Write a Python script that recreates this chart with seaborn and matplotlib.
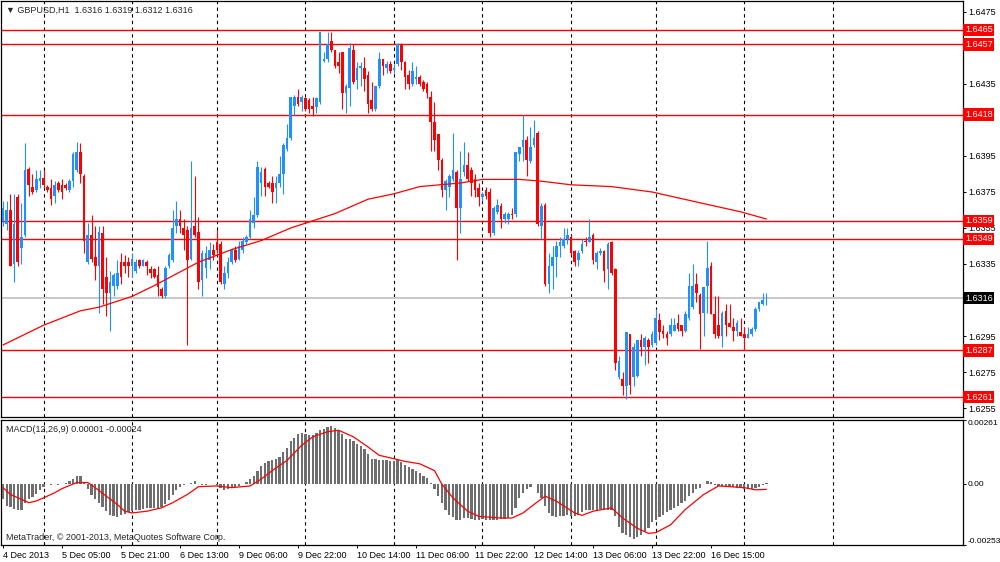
import numpy as np
import pandas as pd
import seaborn as sns
import matplotlib.pyplot as plt
from matplotlib.transforms import blended_transform_factory

# ─── DATA (GBPUSD H1) ─────────────────────────────────────────
opens = [
    1.6359, 1.6357, 1.6365, 1.6335, 1.6372, 1.6344, 1.6351, 1.6388, 1.6378, 1.6376,
    1.6381, 1.6383, 1.6378, 1.6377, 1.6373, 1.6380, 1.6379, 1.6379, 1.6376, 1.6381,
    1.6387, 1.6397, 1.6384, 1.6336, 1.6351, 1.6339, 1.6334, 1.6352, 1.6328, 1.6319,
    1.6323, 1.6323, 1.6336, 1.6336, 1.6336, 1.6334, 1.6331, 1.6337, 1.6334, 1.6336,
    1.6332, 1.6332, 1.6329, 1.6321, 1.6317, 1.6334, 1.6337, 1.6356, 1.6360, 1.6355,
    1.6354, 1.6338, 1.6356, 1.6353, 1.6326, 1.6333, 1.6337, 1.6343, 1.6347, 1.6346,
    1.6324, 1.6330, 1.6336, 1.6343, 1.6338, 1.6343, 1.6347, 1.6350, 1.6358, 1.6362,
    1.6380, 1.6388, 1.6380, 1.6380, 1.6377, 1.6380, 1.6385, 1.6399, 1.6405, 1.6423,
    1.6428, 1.6425, 1.6427, 1.6426, 1.6423, 1.6422, 1.6425, 1.6448, 1.6449, 1.6459,
    1.6454, 1.6447, 1.6453, 1.6430, 1.6433, 1.6454, 1.6437, 1.6444, 1.6444, 1.6440,
    1.6426, 1.6421, 1.6434, 1.6449, 1.6444, 1.6446, 1.6443, 1.6446, 1.6457, 1.6447,
    1.6440, 1.6435, 1.6438, 1.6439, 1.6436, 1.6435, 1.6428, 1.6414, 1.6407, 1.6393,
    1.6376, 1.6378, 1.6382, 1.6386, 1.6366, 1.6386, 1.6390, 1.6387, 1.6382, 1.6377,
    1.6372, 1.6376, 1.6375, 1.6352, 1.6364, 1.6367, 1.6360, 1.6360, 1.6363, 1.6363,
    1.6396, 1.6400, 1.6404, 1.6392, 1.6401, 1.6408, 1.6356, 1.6368, 1.6324, 1.6334,
    1.6339, 1.6345, 1.6345, 1.6349, 1.6350, 1.6342, 1.6337, 1.6342, 1.6348, 1.6347,
    1.6351, 1.6336, 1.6341, 1.6342, 1.6332, 1.6347, 1.6332, 1.6272, 1.6271, 1.6267,
    1.6296, 1.6272, 1.6273, 1.6293, 1.6289, 1.6293, 1.6290, 1.6291, 1.6304, 1.6298,
    1.6296, 1.6296, 1.6298, 1.6302, 1.6301, 1.6298, 1.6305, 1.6311, 1.6324, 1.6318,
    1.6308, 1.6323, 1.6334, 1.6307, 1.6301, 1.6295, 1.6309, 1.6302, 1.6300, 1.6298,
    1.6297, 1.6296, 1.6294, 1.6296, 1.6299, 1.6310, 1.6313, 1.6316,
]
highs = [
    1.6370, 1.6370, 1.6374, 1.6374, 1.6374, 1.6369, 1.6402, 1.6389, 1.6385, 1.6387,
    1.6387, 1.6387, 1.6379, 1.6382, 1.6381, 1.6381, 1.6382, 1.6380, 1.6382, 1.6397,
    1.6403, 1.6402, 1.6385, 1.6358, 1.6362, 1.6356, 1.6356, 1.6356, 1.6339, 1.6331,
    1.6330, 1.6337, 1.6341, 1.6340, 1.6339, 1.6341, 1.6338, 1.6338, 1.6338, 1.6337,
    1.6334, 1.6333, 1.6334, 1.6322, 1.6334, 1.6341, 1.6365, 1.6370, 1.6365, 1.6360,
    1.6356, 1.6392, 1.6384, 1.6361, 1.6343, 1.6345, 1.6347, 1.6346, 1.6354, 1.6348,
    1.6334, 1.6339, 1.6344, 1.6345, 1.6348, 1.6350, 1.6351, 1.6365, 1.6372, 1.6392,
    1.6389, 1.6389, 1.6381, 1.6384, 1.6384, 1.6395, 1.6402, 1.6413, 1.6428, 1.6429,
    1.6432, 1.6429, 1.6428, 1.6427, 1.6428, 1.6428, 1.6464, 1.6453, 1.6464, 1.6464,
    1.6454, 1.6453, 1.6453, 1.6435, 1.6458, 1.6457, 1.6447, 1.6447, 1.6450, 1.6442,
    1.6436, 1.6434, 1.6453, 1.6449, 1.6448, 1.6448, 1.6446, 1.6458, 1.6458, 1.6448,
    1.6443, 1.6447, 1.6445, 1.6440, 1.6437, 1.6436, 1.6431, 1.6425, 1.6407, 1.6394,
    1.6382, 1.6385, 1.6408, 1.6387, 1.6398, 1.6403, 1.6397, 1.6389, 1.6385, 1.6380,
    1.6375, 1.6378, 1.6377, 1.6367, 1.6371, 1.6369, 1.6364, 1.6364, 1.6366, 1.6397,
    1.6400, 1.6418, 1.6406, 1.6411, 1.6415, 1.6409, 1.6369, 1.6369, 1.6341, 1.6345,
    1.6348, 1.6350, 1.6355, 1.6355, 1.6351, 1.6343, 1.6343, 1.6349, 1.6350, 1.6360,
    1.6352, 1.6342, 1.6344, 1.6343, 1.6347, 1.6348, 1.6333, 1.6284, 1.6275, 1.6297,
    1.6296, 1.6291, 1.6293, 1.6296, 1.6295, 1.6294, 1.6298, 1.6310, 1.6308, 1.6301,
    1.6298, 1.6305, 1.6305, 1.6307, 1.6301, 1.6309, 1.6330, 1.6335, 1.6330, 1.6319,
    1.6322, 1.6348, 1.6336, 1.6317, 1.6317, 1.6309, 1.6313, 1.6313, 1.6305, 1.6304,
    1.6305, 1.6300, 1.6300, 1.6300, 1.6311, 1.6314, 1.6319, 1.6319,
]
lows = [
    1.6356, 1.6354, 1.6334, 1.6325, 1.6334, 1.6335, 1.6350, 1.6373, 1.6374, 1.6375,
    1.6377, 1.6377, 1.6375, 1.6368, 1.6369, 1.6375, 1.6371, 1.6376, 1.6375, 1.6378,
    1.6386, 1.6380, 1.6341, 1.6335, 1.6336, 1.6326, 1.6308, 1.6313, 1.6306, 1.6298,
    1.6317, 1.6321, 1.6324, 1.6330, 1.6328, 1.6328, 1.6330, 1.6333, 1.6334, 1.6329,
    1.6327, 1.6327, 1.6317, 1.6316, 1.6316, 1.6333, 1.6336, 1.6352, 1.6352, 1.6343,
    1.6290, 1.6337, 1.6350, 1.6321, 1.6317, 1.6327, 1.6332, 1.6337, 1.6341, 1.6324,
    1.6321, 1.6327, 1.6335, 1.6336, 1.6337, 1.6341, 1.6346, 1.6349, 1.6355, 1.6361,
    1.6373, 1.6373, 1.6377, 1.6369, 1.6369, 1.6378, 1.6374, 1.6398, 1.6404, 1.6418,
    1.6423, 1.6420, 1.6420, 1.6419, 1.6417, 1.6419, 1.6424, 1.6447, 1.6447, 1.6453,
    1.6444, 1.6441, 1.6421, 1.6419, 1.6423, 1.6435, 1.6432, 1.6434, 1.6431, 1.6419,
    1.6420, 1.6420, 1.6433, 1.6440, 1.6441, 1.6441, 1.6441, 1.6445, 1.6443, 1.6432,
    1.6432, 1.6434, 1.6435, 1.6434, 1.6431, 1.6427, 1.6398, 1.6398, 1.6387, 1.6372,
    1.6365, 1.6372, 1.6381, 1.6337, 1.6352, 1.6384, 1.6381, 1.6373, 1.6372, 1.6367,
    1.6370, 1.6371, 1.6350, 1.6351, 1.6363, 1.6355, 1.6358, 1.6357, 1.6360, 1.6361,
    1.6392, 1.6392, 1.6384, 1.6391, 1.6400, 1.6356, 1.6349, 1.6323, 1.6319, 1.6321,
    1.6328, 1.6339, 1.6344, 1.6346, 1.6340, 1.6334, 1.6334, 1.6341, 1.6345, 1.6347,
    1.6335, 1.6332, 1.6340, 1.6325, 1.6321, 1.6329, 1.6276, 1.6271, 1.6262, 1.6260,
    1.6263, 1.6267, 1.6272, 1.6284, 1.6279, 1.6280, 1.6289, 1.6290, 1.6293, 1.6294,
    1.6290, 1.6295, 1.6298, 1.6298, 1.6295, 1.6297, 1.6304, 1.6310, 1.6314, 1.6288,
    1.6295, 1.6308, 1.6307, 1.6294, 1.6294, 1.6289, 1.6295, 1.6300, 1.6292, 1.6295,
    1.6295, 1.6287, 1.6294, 1.6295, 1.6298, 1.6309, 1.6312, 1.6312,
]
closes = [
    1.6366, 1.6365, 1.6334, 1.6357, 1.6336, 1.6350, 1.6387, 1.6379, 1.6375, 1.6382,
    1.6383, 1.6379, 1.6376, 1.6371, 1.6379, 1.6376, 1.6375, 1.6377, 1.6381, 1.6396,
    1.6397, 1.6385, 1.6348, 1.6351, 1.6338, 1.6334, 1.6353, 1.6321, 1.6319, 1.6325,
    1.6329, 1.6330, 1.6328, 1.6334, 1.6334, 1.6338, 1.6336, 1.6334, 1.6337, 1.6334,
    1.6330, 1.6328, 1.6322, 1.6317, 1.6333, 1.6340, 1.6355, 1.6360, 1.6356, 1.6351,
    1.6337, 1.6355, 1.6351, 1.6325, 1.6341, 1.6341, 1.6343, 1.6340, 1.6343, 1.6325,
    1.6330, 1.6336, 1.6343, 1.6337, 1.6345, 1.6348, 1.6350, 1.6360, 1.6362, 1.6389,
    1.6386, 1.6378, 1.6378, 1.6375, 1.6380, 1.6385, 1.6401, 1.6405, 1.6428, 1.6428,
    1.6424, 1.6428, 1.6421, 1.6421, 1.6421, 1.6427, 1.6464, 1.6449, 1.6457, 1.6454,
    1.6445, 1.6445, 1.6430, 1.6434, 1.6455, 1.6436, 1.6444, 1.6445, 1.6438, 1.6424,
    1.6421, 1.6434, 1.6449, 1.6445, 1.6446, 1.6442, 1.6444, 1.6457, 1.6447, 1.6439,
    1.6435, 1.6442, 1.6439, 1.6435, 1.6432, 1.6430, 1.6414, 1.6404, 1.6393, 1.6376,
    1.6381, 1.6384, 1.6387, 1.6366, 1.6382, 1.6390, 1.6382, 1.6380, 1.6376, 1.6372,
    1.6374, 1.6373, 1.6352, 1.6366, 1.6368, 1.6360, 1.6363, 1.6363, 1.6362, 1.6397,
    1.6400, 1.6404, 1.6393, 1.6400, 1.6405, 1.6357, 1.6367, 1.6324, 1.6334, 1.6339,
    1.6345, 1.6347, 1.6349, 1.6351, 1.6341, 1.6336, 1.6341, 1.6346, 1.6347, 1.6350,
    1.6337, 1.6341, 1.6342, 1.6331, 1.6346, 1.6330, 1.6280, 1.6281, 1.6267, 1.6297,
    1.6268, 1.6289, 1.6293, 1.6289, 1.6294, 1.6289, 1.6296, 1.6305, 1.6297, 1.6296,
    1.6294, 1.6301, 1.6301, 1.6299, 1.6298, 1.6307, 1.6323, 1.6323, 1.6319, 1.6307,
    1.6322, 1.6333, 1.6307, 1.6296, 1.6295, 1.6308, 1.6301, 1.6300, 1.6298, 1.6302,
    1.6295, 1.6294, 1.6296, 1.6299, 1.6310, 1.6314, 1.6315, 1.6316,
]

# moving average, sampled along the red curve
ma_bars = [0, 11, 21, 26, 35, 41, 53, 62, 70, 78, 90, 99, 106, 113, 124, 130,
           140, 146, 154, 165, 176, 189, 200, 207]
ma_vals = [1.6290, 1.6301, 1.6309, 1.6311, 1.6317, 1.6323, 1.6336, 1.6343,
           1.6348, 1.6355, 1.6363, 1.6371, 1.6374, 1.6378, 1.6380, 1.6382,
           1.6382, 1.6381, 1.6379, 1.6378, 1.6375, 1.6369, 1.6364, 1.6360]

macd_hist = [
    -0.00065, -0.00091, -0.00098, -0.00104, -0.00107, -0.00107, -0.00079, -0.00065, -0.00056, -0.00042,
    -0.00028, -0.00014, -0.00003, -0.00007, -0.00004, -0.00006, -0.00003, 0.00004, 0.00011, 0.00018,
    0.00029, 0.00029, 0.00007, -0.00021, -0.00049, -0.00065, -0.00079, -0.00096, -0.00114, -0.00128,
    -0.00135, -0.00138, -0.00128, -0.00124, -0.00118, -0.00114, -0.00111, -0.00107, -0.00104, -0.00102,
    -0.00100, -0.00100, -0.00102, -0.00096, -0.00086, -0.00068, -0.00049, -0.00026, -0.00013, -0.00007,
    -0.00004, 0.00004, 0.00010, -0.00003, -0.00007, -0.00006, -0.00004, -0.00003, -0.00007, -0.00017,
    -0.00026, -0.00024, -0.00017, -0.00014, -0.00010, -0.00003, 0.00007, 0.00018, 0.00029, 0.00053,
    0.00074, 0.00085, 0.00091, 0.00095, 0.00102, 0.00109, 0.00130, 0.00146, 0.00174, 0.00188,
    0.00202, 0.00208, 0.00205, 0.00199, 0.00199, 0.00208, 0.00219, 0.00224, 0.00233, 0.00235,
    0.00230, 0.00220, 0.00202, 0.00185, 0.00185, 0.00174, 0.00164, 0.00155, 0.00143, 0.00123,
    0.00102, 0.00099, 0.00098, 0.00096, 0.00095, 0.00093, 0.00091, 0.00095, 0.00088, 0.00077,
    0.00067, 0.00060, 0.00053, 0.00043, 0.00032, 0.00021, 0.00004, -0.00021, -0.00052, -0.00082,
    -0.00107, -0.00128, -0.00138, -0.00149, -0.00149, -0.00142, -0.00143, -0.00146, -0.00149, -0.00149,
    -0.00146, -0.00149, -0.00152, -0.00152, -0.00149, -0.00146, -0.00146, -0.00142, -0.00128, -0.00100,
    -0.00059, -0.00038, -0.00021, -0.00013, -0.00004, -0.00038, -0.00059, -0.00093, -0.00121, -0.00135,
    -0.00138, -0.00135, -0.00132, -0.00128, -0.00132, -0.00135, -0.00128, -0.00118, -0.00110, -0.00107,
    -0.00107, -0.00107, -0.00104, -0.00107, -0.00111, -0.00110, -0.00135, -0.00177, -0.00205, -0.00212,
    -0.00221, -0.00230, -0.00219, -0.00212, -0.00198, -0.00184, -0.00160, -0.00149, -0.00138, -0.00128,
    -0.00118, -0.00110, -0.00100, -0.00091, -0.00082, -0.00072, -0.00052, -0.00038, -0.00024, -0.00017,
    -0.00003, 0.00011, 0.00007, -0.00007, -0.00010, -0.00010, -0.00013, -0.00013, -0.00015, -0.00018,
    -0.00018, -0.00021, -0.00024, -0.00021, -0.00017, -0.00013, -0.00007, 0.00001,
]

signal_bars = [0, 2, 5, 7, 9, 11, 14, 16, 20, 23, 25, 28, 31, 33, 35, 39, 43, 46, 50,
               53, 58, 62, 67, 70, 73, 77, 81, 84, 88, 91, 95, 99, 102, 106, 109, 113,
               117, 119, 122, 126, 129, 135, 138, 141, 144, 147, 150, 155, 157, 160,
               165, 168, 172, 175, 177, 181, 185, 190, 194, 197, 201, 204, 207]
signal_vals = [-0.00017, -0.00045, -0.00065, -0.00079, -0.00072, -0.00059, -0.00038,
               -0.00021, 0.00004, 0.00004, -0.00017, -0.00052, -0.00086, -0.00114,
               -0.00121, -0.00114, -0.00100, -0.00079, -0.00045, -0.00013, -0.00010,
               -0.00017, -0.00010, 0.00018, 0.00053, 0.00095, 0.00157, 0.00192,
               0.00213, 0.00219, 0.00192, 0.00150, 0.00116, 0.00102, 0.00091, 0.00081,
               0.00053, -0.00003, -0.00059, -0.00114, -0.00135, -0.00142, -0.00142,
               -0.00121, -0.00086, -0.00052, -0.00072, -0.00121, -0.00131, -0.00114,
               -0.00100, -0.00142, -0.00184, -0.00205, -0.00202, -0.00170, -0.00107,
               -0.00045, -0.00010, -0.00013, -0.00017, -0.00026, -0.00024]

level_prices = [1.6465, 1.6457, 1.6418, 1.6359, 1.6349, 1.6287, 1.6261]
bid_price = 1.6316
price_ticks = [1.6475, 1.6455, 1.6435, 1.6415, 1.6395, 1.6375, 1.6355,
               1.6335, 1.6315, 1.6295, 1.6275, 1.6255]
# these three sit under a price box on the chart
covered_ticks = [1.6455, 1.6415, 1.6315]
macd_ticks = [0.00261, 0.0, -0.00253]
macd_tick_labels = ["0.00261", "0.00", "-0.00253"]

day_start_bars = [11, 35, 58, 82, 106, 130, 154, 177, 201, 225]
date_bars = [0, 16, 32, 48, 64, 80, 96, 112, 128, 144, 160, 176, 192]
date_labels = ["4 Dec 2013", "5 Dec 05:00", "5 Dec 21:00", "6 Dec 13:00",
               "9 Dec 06:00", "9 Dec 22:00", "10 Dec 14:00", "11 Dec 06:00",
               "11 Dec 22:00", "12 Dec 14:00", "13 Dec 06:00", "13 Dec 22:00",
               "16 Dec 15:00"]


def main():

    # ─── STYLE ─────────────────────────────────────
    sns.set_theme(style="white")
    plt.rcParams["font.family"] = ["Liberation Sans", "DejaVu Sans"]
    FS = 6.5
    BLUE = "#1E90FF"
    RED = "#FF0000"

    fig = plt.figure(figsize=(10, 5.62), dpi=100)
    ax = fig.add_axes([0.001, 0.258, 0.962, 0.7402])
    ax2 = fig.add_axes([0.001, 0.0302, 0.962, 0.2224])

    # ─── CANDLES ───────────────────────────────────
    df = pd.DataFrame({"open": opens, "high": highs, "low": lows, "close": closes})
    df["bar"] = np.arange(len(df))
    colors = np.where(df["close"] >= df["open"], BLUE, RED)
    body_lo = np.minimum(df["open"], df["close"])
    body_h = np.maximum((df["close"] - df["open"]).abs(), 0.00003)

    ax.vlines(df["bar"], df["low"], df["high"], colors=colors, lw=0.8, zorder=3)
    ax.bar(df["bar"], body_h, bottom=body_lo, width=0.72, color=colors,
           linewidth=0, zorder=3)

    sns.lineplot(x=ma_bars, y=ma_vals, ax=ax, color=RED, lw=0.9, zorder=4)

    # levels
    for p in level_prices:
        ax.axhline(p, color=RED, lw=1.0, zorder=2)
    ax.axhline(bid_price, color="#C8C8C8", lw=1.4, zorder=2)

    # ─── MACD ──────────────────────────────────────
    sns.barplot(x=np.arange(len(macd_hist)), y=macd_hist, ax=ax2, native_scale=True,
                color="#6E6E6E", saturation=1, width=0.62, errorbar=None,
                linewidth=0, zorder=3)
    sns.lineplot(x=signal_bars, y=signal_vals, ax=ax2, color=RED, lw=0.9, zorder=4)

    # ─── GRID / AXES ───────────────────────────────
    for a in (ax, ax2):
        for b in day_start_bars:
            a.axvline(b, color="black", lw=0.8, ls=(0, (3, 3)), zorder=1)
        a.set_xlim(-0.54, 260.3)
        a.set_xlabel("")
        a.set_ylabel("")
        for s in a.spines.values():
            s.set_color("black")
            s.set_linewidth(0.9)
        a.yaxis.tick_right()
        a.tick_params(axis="y", length=2, width=0.7, pad=1.5, labelsize=FS,
                      colors="black", right=True)

    ax.set_ylim(1.62500, 1.64811)
    ax.set_xticks([])
    ax.set_yticks(price_ticks)
    ax.set_yticklabels(["" if p in covered_ticks else f"{p:.4f}" for p in price_ticks])

    ax2.set_ylim(-0.00253, 0.00261)
    ax2.set_yticks(macd_ticks)
    ax2.set_yticklabels(macd_tick_labels)
    ax2.tick_params(axis="y", labelsize=6.0, pad=1.0)
    tl = ax2.get_yticklabels()
    tl[0].set_va("top")
    tl[2].set_va("bottom")

    ax2.set_xticks(date_bars)
    ax2.set_xticklabels(date_labels, ha="left")
    ax2.tick_params(axis="x", length=2.5, width=0.7, pad=2, labelsize=FS,
                    colors="black", bottom=True)

    # price label boxes on the right edge
    tr = blended_transform_factory(ax.transAxes, ax.transData)
    for p in level_prices:
        ax.text(1.002, p, f"{p:.4f}", transform=tr, color="white", fontsize=FS,
                va="center", ha="left", clip_on=False, zorder=6,
                bbox=dict(boxstyle="square,pad=0.18", fc=RED, ec="none"))
    ax.text(1.002, bid_price, f"{bid_price:.4f}", transform=tr, color="white",
            fontsize=FS, va="center", ha="left", clip_on=False, zorder=6,
            bbox=dict(boxstyle="square,pad=0.18", fc="black", ec="none"))

    # ─── TEXTS ─────────────────────────────────────
    fig.text(0.006, 1 - 10 / 562, "\u25bc GBPUSD,H1  1.6316 1.6319 1.6312 1.6316",
             fontsize=FS, va="center", ha="left")
    fig.text(0.006, 1 - 429 / 562, "MACD(12,26,9) 0.00001 -0.00024",
             fontsize=FS, va="center", ha="left")
    fig.text(0.006, 1 - 537 / 562, "MetaTrader, \u00a9 2001-2013, MetaQuotes Software Corp.",
             fontsize=FS, va="center", ha="left")

    fig.savefig("out.png", dpi=100, facecolor="white")
    print("Chart saved -> out.png")


if __name__ == "__main__":
    main()
